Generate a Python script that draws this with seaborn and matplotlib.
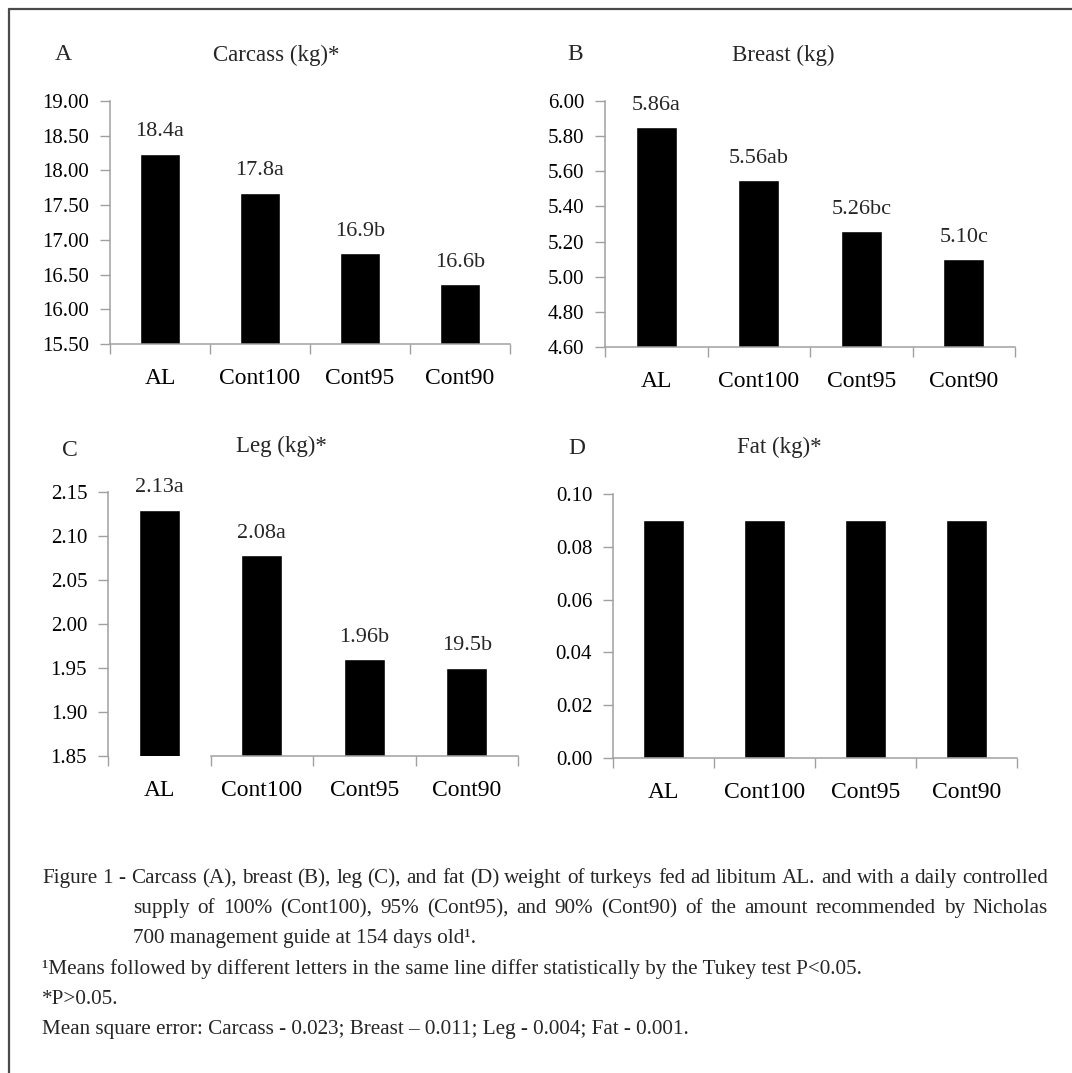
import matplotlib
matplotlib.use("Agg")
import matplotlib.pyplot as plt
from matplotlib.lines import Line2D
import numpy as np
import seaborn as sns

# data
treatments = ["AL", "Cont100", "Cont95", "Cont90"]

carcass = [18.24, 17.68, 16.81, 16.36]
carcass_labels = ["18.4a", "17.8a", "16.9b", "16.6b"]
carcass_ticks = [15.50, 16.00, 16.50, 17.00, 17.50, 18.00, 18.50, 19.00]

breast = [5.85, 5.55, 5.26, 5.10]
breast_labels = ["5.86a", "5.56ab", "5.26bc", "5.10c"]
breast_ticks = [4.60, 4.80, 5.00, 5.20, 5.40, 5.60, 5.80, 6.00]

leg = [2.13, 2.078, 1.96, 1.95]
leg_labels = ["2.13a", "2.08a", "1.96b", "19.5b"]
leg_ticks = [1.85, 1.90, 1.95, 2.00, 2.05, 2.10, 2.15]

fat = [0.09, 0.09, 0.09, 0.09]
fat_labels = None
fat_ticks = [0.00, 0.02, 0.04, 0.06, 0.08, 0.10]

caption_1 = ("Figure 1 - Carcass (A), breast (B), leg (C), and fat (D) weight of turkeys "
             "fed ad libitum AL. and with a daily controlled")
caption_2 = ("supply of 100% (Cont100), 95% (Cont95), and 90% (Cont90) of the amount "
             "recommended by Nicholas")
caption_3 = "700 management guide at 154 days old\u00b9."
caption_4 = "\u00b9Means followed by different letters in the same line differ statistically by the Tukey test P<0.05."
caption_5 = "*P>0.05."
caption_6 = "Mean square error: Carcass - 0.023; Breast \u2013 0.011; Leg - 0.004; Fat - 0.001."

sns.set_theme(style="ticks")
plt.rcParams["font.family"] = ["Liberation Serif", "DejaVu Serif"]

W, H = 1072, 1073
fig = plt.figure(figsize=(W / 100, H / 100), dpi=100)
GRAY = "#a0a0a0"


def fx(x):
    return x / W


def fy(y):
    return 1 - y / H


def rect(x0, x1, y0, y1):
    return [fx(x0), fy(y1), (x1 - x0) / W, (y1 - y0) / H]


panels = [
    # box (px), values, labels, ticks, letter, letter xy, title, title xy, bottom spine start
    ((110, 510, 101, 344), carcass, carcass_labels, carcass_ticks,
     "A", (63, 55), "Carcass (kg)*", (276, 55), -0.5),
    ((605, 1015, 101, 347), breast, breast_labels, breast_ticks,
     "B", (575, 55), "Breast (kg)", (783, 55), -0.5),
    ((108, 518, 492, 756), leg, leg_labels, leg_ticks,
     "C", (70, 451), "Leg (kg)*", (281, 446), 0.5),
    ((613, 1017, 494, 758), fat, fat_labels, fat_ticks,
     "D", (577, 448), "Fat (kg)*", (779, 447), -0.5),
]

for box, vals, labels, ticks, letter, lxy, title, txy, xstart in panels:
    ax = fig.add_axes(rect(*box))
    sns.barplot(x=treatments, y=vals, ax=ax, color="black", saturation=1, width=0.4)
    ax.set_xlim(-0.5, 3.5)
    ax.set_ylim(ticks[0], ticks[-1])
    ax.set_yticks(ticks)
    ax.set_yticklabels([f"{t:.2f}" for t in ticks])
    ax.set_xlabel("")
    ax.set_ylabel("")
    ax.tick_params(axis="y", direction="out", length=7, width=1, color=GRAY,
                   pad=8, labelsize=15, labelcolor="black")
    ax.tick_params(axis="x", which="major", length=0, pad=17, labelsize=17,
                   labelcolor="black")
    ax.set_xticks(np.arange(-0.5, 4, 1), minor=True)
    ax.tick_params(axis="x", which="minor", direction="out", length=7, width=1,
                   color=GRAY, bottom=True)
    sns.despine(ax=ax)
    for s in ("left", "bottom"):
        ax.spines[s].set_color(GRAY)
        ax.spines[s].set_linewidth(1.1)
    ax.spines["bottom"].set_bounds(xstart, 3.5)
    if labels:
        ax.bar_label(ax.containers[0], labels=labels, padding=9, fontsize=16)

    fig.text(fx(lxy[0]), fy(lxy[1]), letter, fontsize=17, ha="center", va="center")
    fig.text(fx(txy[0]), fy(txy[1]), title, fontsize=16.5, ha="center", va="center")


def justified(text, x0, x1, y, size):
    words = text.split(" ")
    items = [fig.text(0, fy(y), w, fontsize=size, va="baseline", ha="left") for w in words]
    r = fig.canvas.get_renderer()
    widths = [t.get_window_extent(r).width for t in items]
    gap = max(((x1 - x0) - sum(widths)) / (len(words) - 1), 2.0)
    x = x0
    for t, w in zip(items, widths):
        t.set_x(fx(x))
        x += w + gap


CAP = 15.2
justified(caption_1, 42, 1048, 883, CAP)
justified(caption_2, 133, 1048, 913, CAP)
fig.text(fx(133), fy(943), caption_3, fontsize=CAP, va="baseline")
fig.text(fx(42), fy(974), caption_4, fontsize=CAP, va="baseline")
fig.text(fx(42), fy(1004), caption_5, fontsize=CAP, va="baseline")
fig.text(fx(42), fy(1034), caption_6, fontsize=CAP, va="baseline")

# frame around the figure (top and left edges)
fig.add_artist(Line2D([fx(9), 1], [fy(9), fy(9)], color="#4a4a4a", lw=1.6))
fig.add_artist(Line2D([fx(9), fx(9)], [fy(9), 0], color="#4a4a4a", lw=1.6))

fig.savefig("out.png", dpi=100)
